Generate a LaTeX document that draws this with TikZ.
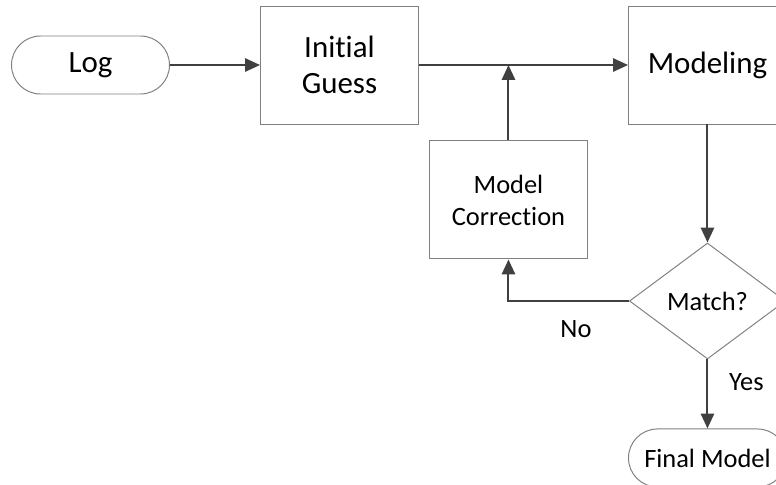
\documentclass[tikz,border=0pt]{standalone}
\usepackage{fontspec}
\setmainfont{Carlito}[Ligatures={NoCommon}]
\usepackage{tikz}
\usetikzlibrary{shapes.geometric, shapes.misc, arrows.meta, positioning}
\definecolor{edgegray}{RGB}{64, 64, 64}
\definecolor{bordergray}{RGB}{128, 128, 128}

\begin{document}
\begin{tikzpicture}[
    bigtext/.style={font=\fontsize{22}{26}\selectfont},
    smalltext/.style={font=\fontsize{18.8}{22.7}\selectfont},
    terminal/.style={rounded rectangle, draw=bordergray, line width=0.7pt, minimum width=3.95cm, minimum height=1.45cm, align=center, inner sep=0pt},
    proc/.style={rectangle, draw=bordergray, line width=0.7pt, minimum width=3.95cm, minimum height=2.95cm, align=center, inner sep=0pt},
    decision/.style={diamond, draw=bordergray, line width=0.7pt, minimum width=3.9cm, minimum height=2.9cm, inner sep=0pt},
    arrow/.style={-{Triangle[length=0.37cm, width=0.33cm]}, draw=edgegray, line width=1.4pt}
]
\useasboundingbox (0,0) rectangle (19.4,-12.125);

% Main row
\node[terminal, bigtext] (log) at (2.2625,-1.625) {Log};
\node[proc, bigtext, right=2.25cm of log] (guess) {Initial\\Guess};
\node[proc, bigtext, right=5.225cm of guess] (modeling) {Modeling};

% Feedback loop
\node[proc, smalltext, below right=0.4cm and 0.25cm of guess.south east] (correction) {Model\\Correction};
\coordinate (merge) at (correction.north |- guess.east);

% Check and result
\node[decision, smalltext, below=2.95cm of modeling] (match) {Match?};
\node[terminal, smalltext, below=1.725cm of match] (final) {Final Model};

% Arrows
\draw[arrow] (log) -- (guess);
\draw[arrow] (guess) -- (modeling);
\draw[arrow] (correction) -- (merge);
\draw[arrow] (modeling) -- (match);
\draw[arrow] (match.west) -| node[pos=0.22, below=0.35cm, smalltext] {No} (correction.south);
\draw[arrow] (match.south) -- node[pos=0.33, right=0.4cm, smalltext] {Yes} (final.north);

\end{tikzpicture}
\end{document}
